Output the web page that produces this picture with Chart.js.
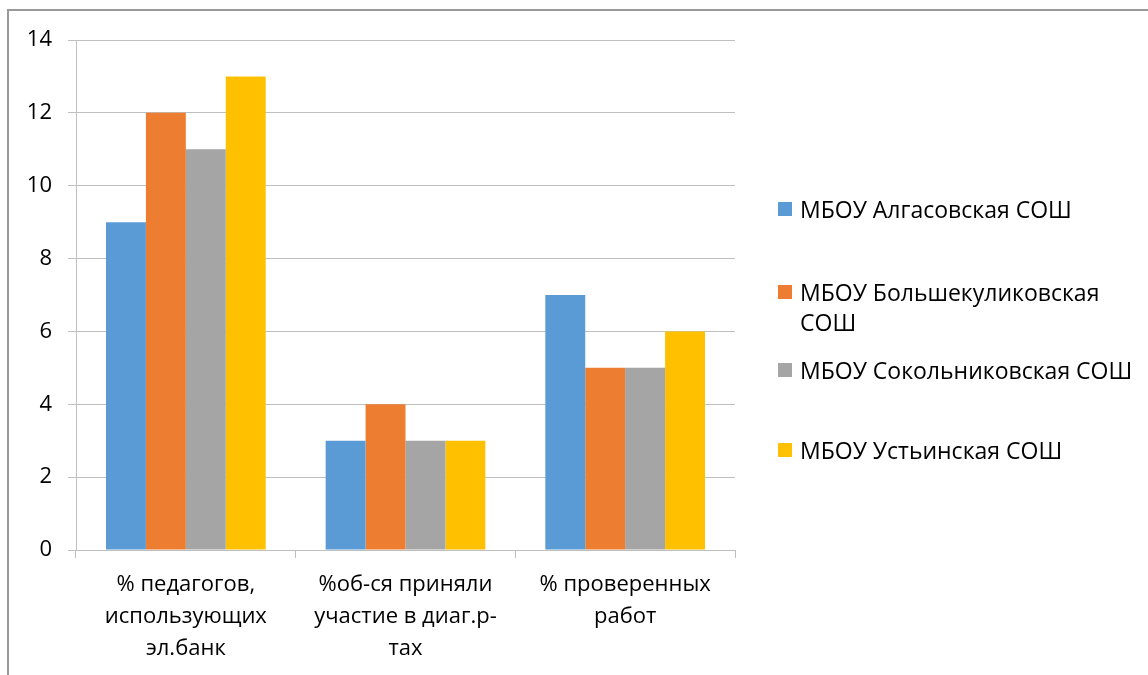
<!DOCTYPE html>
<html>
<head>
<meta charset="utf-8">
<script src="https://cdn.jsdelivr.net/npm/chart.js@4"></script>
<style>
  html, body { margin: 0; padding: 0; background: #fff; overflow: hidden; }
  #wrap { position: relative; width: 1148px; height: 675px; overflow: hidden; }
  #frame { position: absolute; left: 7px; top: 9px; width: 1300px; height: 800px; border: 2px solid #999; box-sizing: border-box; }
  #legend { position: absolute; left: 0; top: 0; font-family: "Open Sans", sans-serif; font-size: 23px; color: #000; }
  .item { position: absolute; left: 778px; width: 370px; line-height: 30px; }
  .box { position: absolute; left: 0; top: 8px; width: 14px; height: 14px; }
  .txt { position: absolute; left: 22px; width: 345px; }
</style>
</head>
<body>
<div id="wrap">
  <div id="frame"></div>
  <canvas id="myChart" width="1148" height="675"></canvas>
  <div id="legend"></div>
</div>
<script>
const categories = [
    ['% педагогов,', 'использующих', 'эл.банк'],
    ['%об-ся приняли', 'участие в диаг.р-', 'тах'],
    ['% проверенных', 'работ']
];
const seriesNames = ['МБОУ Алгасовская СОШ', 'МБОУ Большекуликовская СОШ', 'МБОУ Сокольниковская СОШ', 'МБОУ Устьинская СОШ'];
const algasovskaya = [9, 3, 7];
const bolshekulikovskaya = [12, 4, 5];
const sokolnikovskaya = [11, 3, 5];
const ustinskaya = [13, 3, 6];
const yTicks = [0, 2, 4, 6, 8, 10, 12, 14];

const colors = ['#5B9BD5', '#ED7D31', '#A5A5A5', '#FFC000'];
const values = [algasovskaya, bolshekulikovskaya, sokolnikovskaya, ustinskaya];

const ctx = document.getElementById('myChart');
Chart.defaults.font.family = '"Open Sans", sans-serif';
Chart.defaults.color = '#000';

const chart = new Chart(ctx, {
    type: 'bar',
    data: {
        labels: categories,
        datasets: seriesNames.map((name, i) => ({
            label: name,
            data: values[i],
            backgroundColor: colors[i],
            borderWidth: 0,
            categoryPercentage: 0.727,
            barPercentage: 1
        }))
    },
    options: {
        responsive: false,
        animation: false,
        layout: { padding: { left: 8, top: 40, right: 413, bottom: 0 } },
        plugins: { legend: { display: false }, tooltip: { enabled: false } },
        scales: {
            x: {
                grid: { drawOnChartArea: false, offset: true, tickLength: 8, color: '#bfbfbf' },
                border: { color: '#bfbfbf' },
                ticks: { font: { size: 22, lineHeight: '32px' }, padding: 11, maxRotation: 0, autoSkip: false },
                afterFit: (s) => { s.height = 125; }
            },
            y: {
                min: 0,
                max: 14,
                afterBuildTicks: (s) => { s.ticks = yTicks.map(v => ({ value: v })); },
                grid: { color: '#bfbfbf', tickLength: 8 },
                border: { color: '#bfbfbf' },
                ticks: { font: { size: 22 }, padding: 16 },
                afterFit: (s) => { s.width = 68; }
            }
        }
    }
});

// legend
const legendTops = [209, 292, 370, 450];
const legend = document.getElementById('legend');
seriesNames.forEach((name, i) => {
    const item = document.createElement('div');
    item.className = 'item';
    item.style.top = (legendTops[i] - 15) + 'px';
    item.innerHTML = '<div class="box" style="background:' + colors[i] + '"></div><div class="txt">' + name + '</div>';
    legend.appendChild(item);
});
</script>
</body>
</html>
